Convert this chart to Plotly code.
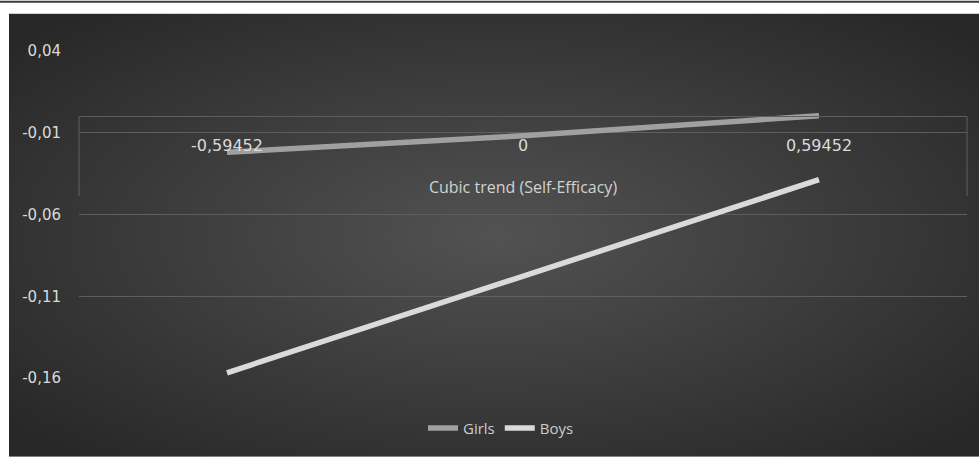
import base64
import plotly.graph_objects as go

# ---- data ----
categories = ["-0,59452", "0", "0,59452"]
girls = [-0.022, -0.0118, 0.0004]
boys = [-0.1568, -0.098, -0.0387]
y_tickvals = [0.04, -0.01, -0.06, -0.11, -0.16]
y_ticktext = ["0,04", "-0,01", "-0,06", "-0,11", "-0,16"]
x_title = "Cubic trend (Self-Efficacy)"

W, H = 979, 457
ML, MR, MT, MB = 79, 12, 51, 74
PW, PH = W - ML - MR, H - MT - MB

def px_x(p):
    return (p - ML) / PW

def px_y(p):
    return (H - MB - p) / PH

xi = list(range(len(categories)))

fig = go.Figure()
fig.add_trace(go.Scatter(x=xi, y=girls, mode="lines", name="Girls",
                         line=dict(color="#a0a0a0", width=5.5)))
fig.add_trace(go.Scatter(x=xi, y=boys, mode="lines", name="Boys",
                         line=dict(color="#dadada", width=5.5)))

svg = (
    '<svg xmlns="http://www.w3.org/2000/svg" width="970" height="444" '
    'viewBox="0 0 970 444" preserveAspectRatio="none">'
    '<defs><radialGradient id="g" cx="50%" cy="50%" r="65%">'
    '<stop offset="0%" stop-color="#525252"/>'
    '<stop offset="100%" stop-color="#282828"/>'
    '</radialGradient></defs>'
    '<rect width="970" height="444" fill="url(#g)"/></svg>'
)
src = "data:image/svg+xml;base64," + base64.b64encode(svg.encode()).decode()

fig.update_layout(
    width=W, height=H,
    margin=dict(l=ML, r=MR, t=MT, b=MB),
    paper_bgcolor="white",
    plot_bgcolor="rgba(0,0,0,0)",
    separators=",.",
    showlegend=True,
    legend=dict(orientation="h", x=px_x(501), xanchor="center",
                y=px_y(434), yanchor="middle",
                font=dict(family="Open Sans", size=15, color="#cccccc"),
                bgcolor="rgba(0,0,0,0)", itemwidth=30),
    images=[dict(source=src, xref="paper", yref="paper",
                 x=px_x(9), y=px_y(13), sizex=(W + 6 - 9) / PW, sizey=(H + 6 - 13) / PH,
                 xanchor="left", yanchor="top", sizing="stretch", layer="below")],
    shapes=[
        dict(type="rect", xref="paper", yref="paper",
             x0=px_x(0), x1=px_x(W), y0=px_y(2), y1=px_y(0),
             fillcolor="#3a3a3a", line=dict(width=0), layer="above"),
        dict(type="line", xref="x domain", yref="y", x0=0, x1=0, y0=0, y1=-0.0488,
             line=dict(color="#5e5e5e", width=1), layer="below"),
        dict(type="line", xref="x domain", yref="y", x0=1, x1=1, y0=0, y1=-0.0488,
             line=dict(color="#5e5e5e", width=1), layer="below"),
    ],
    xaxis=dict(
        range=[-0.5, len(categories) - 0.5],
        tickvals=xi, ticktext=categories,
        showgrid=False, zeroline=False,
        showline=True, linecolor="#5e5e5e", linewidth=1,
        anchor="free", position=px_y(116.5),
        ticks="outside", ticklen=15, tickcolor="rgba(0,0,0,0)",
        tickfont=dict(family="DejaVu Sans", size=16, color="#dadada"),
        title=dict(text=x_title, standoff=28,
                   font=dict(family="Open Sans", size=16, color="#d2d2d2")),
    ),
    yaxis=dict(
        range=[-0.16, 0.04],
        tickvals=y_tickvals, ticktext=y_ticktext,
        showgrid=True, gridcolor="#5e5e5e", gridwidth=1,
        zeroline=False, showline=False,
        ticks="outside", ticklen=14, tickcolor="rgba(0,0,0,0)",
        tickfont=dict(family="DejaVu Sans", size=15, color="#dadada"),
    ),
)

fig.write_html("out.html",
               config={"displayModeBar": False},
               post_script="document.body.style.margin='0';document.body.style.padding='0';document.body.style.overflow='hidden';")
